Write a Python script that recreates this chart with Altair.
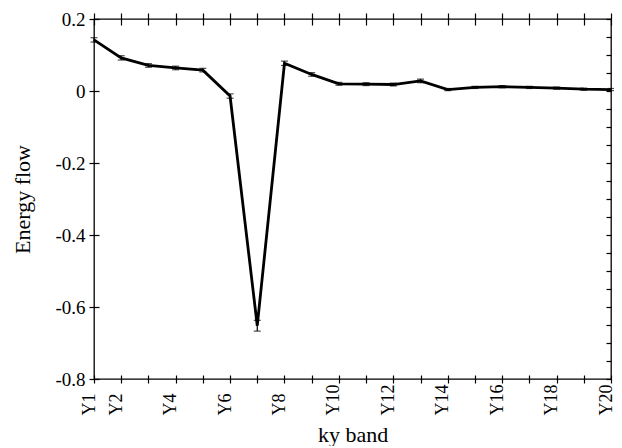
import altair as alt
import pandas as pd

bands = ["Y1", "Y2", "Y3", "Y4", "Y5", "Y6", "Y7", "Y8", "Y9", "Y10",
         "Y11", "Y12", "Y13", "Y14", "Y15", "Y16", "Y17", "Y18", "Y19", "Y20"]
flow = [0.142, 0.092, 0.071, 0.064, 0.058, -0.014, -0.652, 0.077, 0.046, 0.020,
        0.019, 0.018, 0.028, 0.004, 0.010, 0.012, 0.010, 0.008, 0.005, 0.004]
err = [0.006, 0.006, 0.005, 0.005, 0.005, 0.006, 0.015, 0.006, 0.005, 0.004,
       0.004, 0.004, 0.005, 0.003, 0.003, 0.003, 0.003, 0.003, 0.003, 0.003]
y_ticks = [-0.8, -0.75, -0.7, -0.65, -0.6, -0.55, -0.5, -0.45, -0.4, -0.35,
           -0.3, -0.25, -0.2, -0.15, -0.1, -0.05, 0.0, 0.05, 0.1, 0.15, 0.2]

df = pd.DataFrame({"band": bands, "flow": flow, "err": err})

FONT = "Liberation Serif"
yscale = alt.Scale(domain=[-0.8, 0.2], nice=False, zero=False)
xscale = alt.Scale(type="point", padding=0)

left_axis = alt.Axis(
    orient="left", values=y_ticks, title="Energy flow",
    labelExpr="round(datum.value*100) % 20 == 0 ? '' + round(datum.value*10)/10 : ''",
    tickSize={"condition": {"test": "round(datum.value*100) % 20 != 0", "value": 5}, "value": 10},
    offset=-5, domain=False, grid=False, labelPadding=4,
    labelFont=FONT, labelFontSize=19, labelColor="black",
    titleFont=FONT, titleFontSize=22, titleFontWeight="normal", titleColor="black",
    titlePadding=20, tickColor="black", tickWidth=1.2,
)
bottom_axis = alt.Axis(
    orient="bottom", title="ky band",
    labelExpr="datum.value == 'Y1' || parseInt(substring(datum.value, 1)) % 2 == 0 ? datum.value : ''",
    labelAngle=270, labelAlign="left", labelBaseline="middle", labelOffset=-5,
    labelPadding=32, labelOverlap=False, labelFlush=False,
    offset=-4, tickSize=8, domain=False, grid=False,
    labelFont=FONT, labelFontSize=18, labelColor="black",
    titleFont=FONT, titleFontSize=22, titleFontWeight="normal", titleColor="black",
    titlePadding=9, tickColor="black", tickWidth=1.2,
)
top_axis = alt.Axis(orient="top", labels=False, title=None, domain=False, grid=False,
                    offset=-6, tickSize=12, tickColor="black", tickWidth=1.2)
right_axis = alt.Axis(orient="right", values=y_ticks, labels=False, title=None,
                      domain=False, grid=False, offset=-5, tickSize=5,
                      tickColor="black", tickWidth=1.2)

base = alt.Chart(df)
line = base.mark_line(color="black", strokeWidth=2.8).encode(
    x=alt.X("band:O", sort=bands, scale=xscale, axis=bottom_axis),
    y=alt.Y("flow:Q", scale=yscale, axis=left_axis),
)
bars = base.transform_calculate(
    lo="datum.flow - datum.err", hi="datum.flow + datum.err"
).mark_errorbar(ticks=True, size=7, thickness=1.2, color="black").encode(
    x=alt.X("band:O", sort=bands, scale=xscale, title="ky band"),
    y=alt.Y("lo:Q", scale=yscale, title="Energy flow"),
    y2="hi:Q",
)
inner = alt.layer(line, bars)
frame = base.mark_point(opacity=0).encode(
    x=alt.X("band:O", sort=bands, scale=xscale, axis=top_axis),
    y=alt.Y("flow:Q", scale=yscale, axis=right_axis),
)

chart = alt.layer(inner, frame).resolve_axis(x="independent", y="independent").properties(
    width=517, height=360,
    padding={"left": 86, "top": 11, "right": 3, "bottom": 67},
    autosize=alt.AutoSizeParams(type="none"),
    background="white",
).configure_view(stroke="black", strokeWidth=1.3, fill="white")

chart.save("out.html", embed_options={"renderer": "svg", "actions": False})
